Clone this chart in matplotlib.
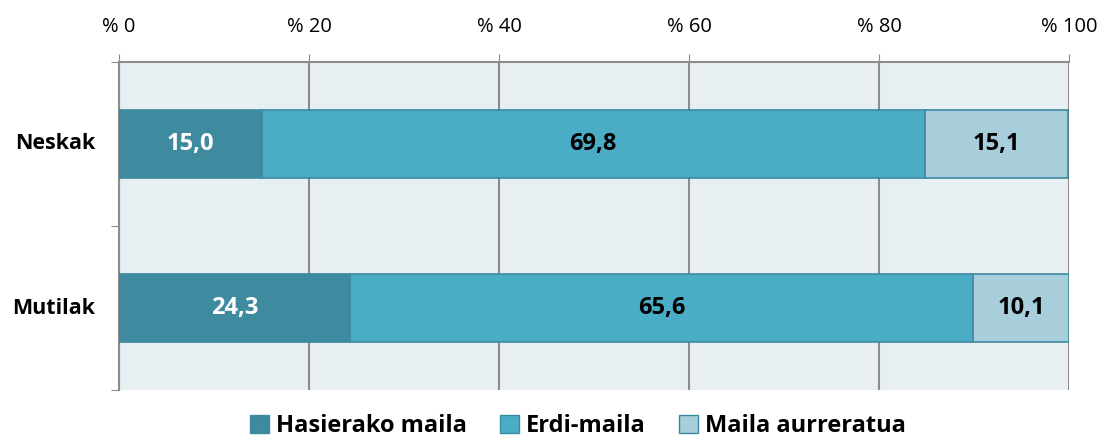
import matplotlib
matplotlib.use("Agg")
from matplotlib import pyplot as plt
from matplotlib.patches import Patch
import numpy as np

categories = ['Neskak', 'Mutilak']
series_names = ['Hasierako maila', 'Erdi-maila', 'Maila aurreratua']
hasierako = [15.0, 24.3]
erdi = [69.8, 65.6]
aurreratua = [15.1, 10.1]
x_ticks = [0, 20, 40, 60, 80, 100]
x_tick_labels = ['% 0', '% 20', '% 40', '% 60', '% 80', '% 100']

colors = ['#3E8BA0', '#4BACC6', '#A8CEDC']
text_colors = ['white', 'black', 'black']

plt.rcParams['font.family'] = ['Open Sans', 'DejaVu Sans']

fig = plt.figure(figsize=(11.05, 4.44), dpi=100)
ax = fig.add_axes([0.1077, 0.1216, 0.8597, 0.7388])
ax.set_facecolor('#E8EFF3')

y = np.arange(len(categories))
left = np.zeros(len(categories))
for vals, name, c, tc in zip([hasierako, erdi, aurreratua], series_names, colors, text_colors):
    vals = np.array(vals)
    ax.barh(y, vals, left=left, height=0.41, color=c, edgecolor='#3A8AA0',
            linewidth=1.2, label=name, zorder=3)
    for yi, l, v in zip(y, left, vals):
        ax.text(l + v / 2, yi, ('%.1f' % v).replace('.', ','), ha='center', va='center',
                color=tc, fontsize=17, fontweight='bold', zorder=4)
    left += vals

ax.set_xlim(0, 100)
ax.set_ylim(1.5, -0.5)
ax.xaxis.tick_top()
ax.set_xticks(x_ticks)
ax.set_xticklabels(x_tick_labels, fontsize=14.5)
ax.tick_params(axis='x', length=6, color='#8C8C8C', pad=12)
ax.grid(axis='x', color='#8C8C8C', linewidth=1.5, zorder=1)

ax.set_yticks([-0.5, 0.5, 1.5])
ax.set_yticklabels([])
ax.tick_params(axis='y', length=6, color='#8C8C8C')
for yi, cat in zip(y, categories):
    ax.text(-0.025, yi, cat, transform=ax.get_yaxis_transform(), ha='right', va='center',
            fontsize=15.5, fontweight='bold')

for s in ['right', 'bottom']:
    ax.spines[s].set_visible(False)
ax.spines['left'].set_color('#8C8C8C')
ax.spines['left'].set_linewidth(1.5)
ax.spines['top'].set_color('#8C8C8C')
ax.spines['top'].set_linewidth(1.5)

handles = [Patch(facecolor=c, edgecolor='#3A8AA0', label=n) for c, n in zip(colors, series_names)]
fig.legend(handles=handles, loc='lower center', bbox_to_anchor=(0.523, -0.035), ncol=3,
           frameon=False, prop={'size': 17, 'weight': 'bold'}, handlelength=0.8,
           handleheight=0.8, handletextpad=0.3, columnspacing=1.4)

fig.savefig('out.png', dpi=100)
